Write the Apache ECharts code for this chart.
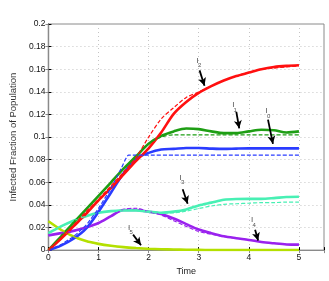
<!DOCTYPE html>
<html>
<head>
<meta charset="utf-8">
<script src="https://cdn.jsdelivr.net/npm/echarts@6/dist/echarts.min.js"></script>
<style>html,body{margin:0;padding:0;background:#fff;}#c{width:329px;height:281px;}</style>
</head>
<body>
<div id="c"></div>
<script>
// ---- data ----
const T = [0,0.25,0.5,0.75,1,1.25,1.5,1.75,2,2.25,2.5,2.75,3,3.25,3.5,3.75,4,4.25,4.5,4.75,5];
const T_blueDash = [0,0.25,0.5,0.75,1,1.25,1.45,1.6,2,2.5,3,3.5,4,4.5,5];

const I2_sim  = [0,0.010,0.021,0.032,0.044,0.055,0.067,0.079,0.090,0.104,0.1205,0.131,0.139,0.145,0.150,0.154,0.157,0.160,0.162,0.163,0.1635];
const I2_data = [0,0.011,0.022,0.034,0.045,0.057,0.069,0.082,0.100,0.116,0.126,0.135,0.140,0.145,0.150,0.154,0.157,0.160,0.161,0.162,0.163];
const I1_sim  = [0,0.012,0.024,0.036,0.048,0.060,0.072,0.083,0.094,0.101,0.105,0.1075,0.107,0.105,0.1035,0.1035,0.105,0.1065,0.106,0.104,0.105];
const I1_data = [0,0.012,0.024,0.036,0.048,0.060,0.072,0.083,0.094,0.100,0.102,0.102,0.102,0.102,0.102,0.102,0.102,0.102,0.102,0.102,0.102];
const I0_sim  = [0,0.004,0.010,0.019,0.034,0.051,0.068,0.081,0.086,0.089,0.0895,0.0903,0.0903,0.0898,0.0895,0.0898,0.090,0.090,0.090,0.090,0.090];
const I0_data = [0,0.005,0.012,0.022,0.037,0.055,0.072,0.084,0.084,0.084,0.084,0.084,0.084,0.084,0.084];
const I3_sim  = [0.015,0.021,0.026,0.030,0.033,0.0345,0.035,0.035,0.034,0.033,0.034,0.036,0.0395,0.042,0.0445,0.0452,0.0453,0.0453,0.046,0.047,0.0472];
const I3_data = [0.015,0.021,0.026,0.030,0.033,0.0345,0.0355,0.0355,0.034,0.033,0.033,0.0345,0.0368,0.039,0.0405,0.041,0.0415,0.042,0.042,0.0425,0.0425];
const I4_sim  = [0.013,0.015,0.017,0.020,0.024,0.030,0.0355,0.0355,0.034,0.032,0.028,0.023,0.0182,0.015,0.0122,0.0105,0.009,0.0072,0.006,0.005,0.0048];
const I4_data = [0.013,0.015,0.017,0.020,0.024,0.030,0.036,0.037,0.034,0.031,0.026,0.021,0.0165,0.014,0.012,0.0105,0.009,0.0072,0.006,0.005,0.0048];
const I5_sim  = [0.0255,0.018,0.012,0.008,0.0055,0.0038,0.0026,0.0018,0.0012,0.0008,0.0005,0.0003,0.0002,0.0001,0.0001,0.0001,0.0001,0.0001,0.0001,0.0001,0.0001];
const I5_data = I5_sim.slice();

const xTicks = [0,1,2,3,4,5];
const yTicks = [0,0.02,0.04,0.06,0.08,0.1,0.12,0.14,0.16,0.18,0.2];

// annotation: label anchor [t, v] and arrow [t1, v1, t2, v2]
const annotations = [
  {sub:'2', at:[2.976,0.1675], arrow:[3.016,0.159,3.115,0.1453]},
  {sub:'1', at:[3.689,0.1282], arrow:[3.75,0.1222,3.808,0.1077]},
  {sub:'0', at:[4.356,0.1231], arrow:[4.382,0.1154,4.481,0.094]},
  {sub:'3', at:[2.64,0.0641],  arrow:[2.679,0.0538,2.778,0.041]},
  {sub:'4', at:[4.065,0.0265], arrow:[4.125,0.0179,4.185,0.0085]},
  {sub:'5', at:[1.61,0.0197],  arrow:[1.689,0.0137,1.848,0.0043]}
];

const COLORS = {I2:'#ff1010', I1:'#1e9e14', I0:'#2a3cff', I3:'#48f0b4', I4:'#9a22ee', I5:'#b4e000'};

function zip(ts, vs){ return ts.map((t,i)=>[t, vs[i]]); }
function solid(name, ts, vs, color){
  return {name, type:'line', data:zip(ts,vs), showSymbol:false, symbol:'none',
    smooth:0.3, lineStyle:{color, width:2.6}, z:3};
}
function dashed(name, ts, vs, color, smooth){
  return {name, type:'line', data:zip(ts,vs), showSymbol:false, symbol:'none',
    smooth:smooth, lineStyle:{color, width:1.2, type:[4,2]}, z:4};
}

const FONT = 'Liberation Sans, Arial, Helvetica, sans-serif';

const series = [
  solid('I5', T, I5_sim, COLORS.I5), dashed('I5d', T, I5_data, COLORS.I5, 0.3),
  solid('I4', T, I4_sim, COLORS.I4), dashed('I4d', T, I4_data, COLORS.I4, 0.3),
  solid('I3', T, I3_sim, COLORS.I3), dashed('I3d', T, I3_data, COLORS.I3, 0.3),
  solid('I0', T, I0_sim, COLORS.I0), dashed('I0d', T_blueDash, I0_data, COLORS.I0, 0.15),
  solid('I1', T, I1_sim, COLORS.I1), dashed('I1d', T, I1_data, COLORS.I1, 0.3),
  solid('I2', T, I2_sim, COLORS.I2), dashed('I2d', T, I2_data, COLORS.I2, 0.3),
  {type:'line', data:[], z:10, markLine:{silent:true, animation:false, symbol:['none','arrow'], symbolSize:[6,8],
    lineStyle:{color:'#000', width:1.8, type:'solid'}, label:{show:false},
    data: annotations.map(a=>[{coord:[a.arrow[0],a.arrow[1]]},{coord:[a.arrow[2],a.arrow[3]]}])}},
  {type:'scatter', symbolSize:0, z:11, silent:true,
    data: annotations.map(a=>({value:a.at})),
    label:{show:true, position:'inside', formatter:'I', color:'#222', fontSize:8, fontFamily:FONT}},
  {type:'scatter', symbolSize:0, z:11, silent:true,
    data: annotations.map(a=>({value:a.at})),
    label:{show:true, position:'inside', offset:[2,5], formatter:(p)=>annotations[p.dataIndex].sub, color:'#222', fontSize:6, fontFamily:FONT}}
];

const chart = echarts.init(document.getElementById('c'), null, {renderer:'canvas'});
chart.setOption({
  animation:false,
  backgroundColor:'#fff',
  grid:{left:46.7, right:5, top:24, bottom:23, show:true, borderColor:'#8a8a8a', borderWidth:1},
  xAxis:[{
    type:'value', min:0, max:5.5, interval:1,
    name:'Time', nameLocation:'middle', nameGap:11, nameTextStyle:{fontSize:9, color:'#222', fontFamily:FONT},
    axisLine:{show:true, lineStyle:{color:'#000', width:1}},
    axisTick:{show:true, inside:true, length:3, lineStyle:{color:'#000'}},
    axisLabel:{fontSize:8.5, color:'#111', fontFamily:FONT, margin:3,
      formatter:(v)=> xTicks.includes(v) ? String(v) : ''},
    splitLine:{show:true, lineStyle:{color:'#c4c4c4', type:[1,3], width:1}}
  },{
    type:'value', min:0, max:5.5, interval:1, position:'top',
    axisLine:{show:true, lineStyle:{color:'#8a8a8a'}},
    axisTick:{show:true, inside:true, length:3, lineStyle:{color:'#8a8a8a'}},
    axisLabel:{show:false}, splitLine:{show:false}
  }],
  yAxis:[{
    type:'value', min:0, max:0.2, interval:0.02,
    name:'Infected Fraction of Population', nameLocation:'middle', nameGap:22,
    nameTextStyle:{fontSize:9.5, color:'#333', fontFamily:FONT},
    axisLine:{show:true, lineStyle:{color:'#000', width:1.2}},
    axisTick:{show:true, inside:true, length:3, lineStyle:{color:'#000'}},
    axisLabel:{fontSize:8.5, color:'#111', fontFamily:FONT, margin:3,
      formatter:(v)=>{ const k = yTicks.find(y=>Math.abs(y-v)<1e-9); return k===undefined ? '' : (k===0 ? '0' : String(+k.toFixed(2))); }},
    splitLine:{show:true, lineStyle:{color:'#c4c4c4', type:[1,3], width:1}}
  },{
    type:'value', min:0, max:0.2, interval:0.02, position:'right',
    axisLine:{show:true, lineStyle:{color:'#8a8a8a'}},
    axisTick:{show:true, inside:true, length:3, lineStyle:{color:'#8a8a8a'}},
    axisLabel:{show:false}, splitLine:{show:false}
  }],
  series: series
});
</script>
</body>
</html>
